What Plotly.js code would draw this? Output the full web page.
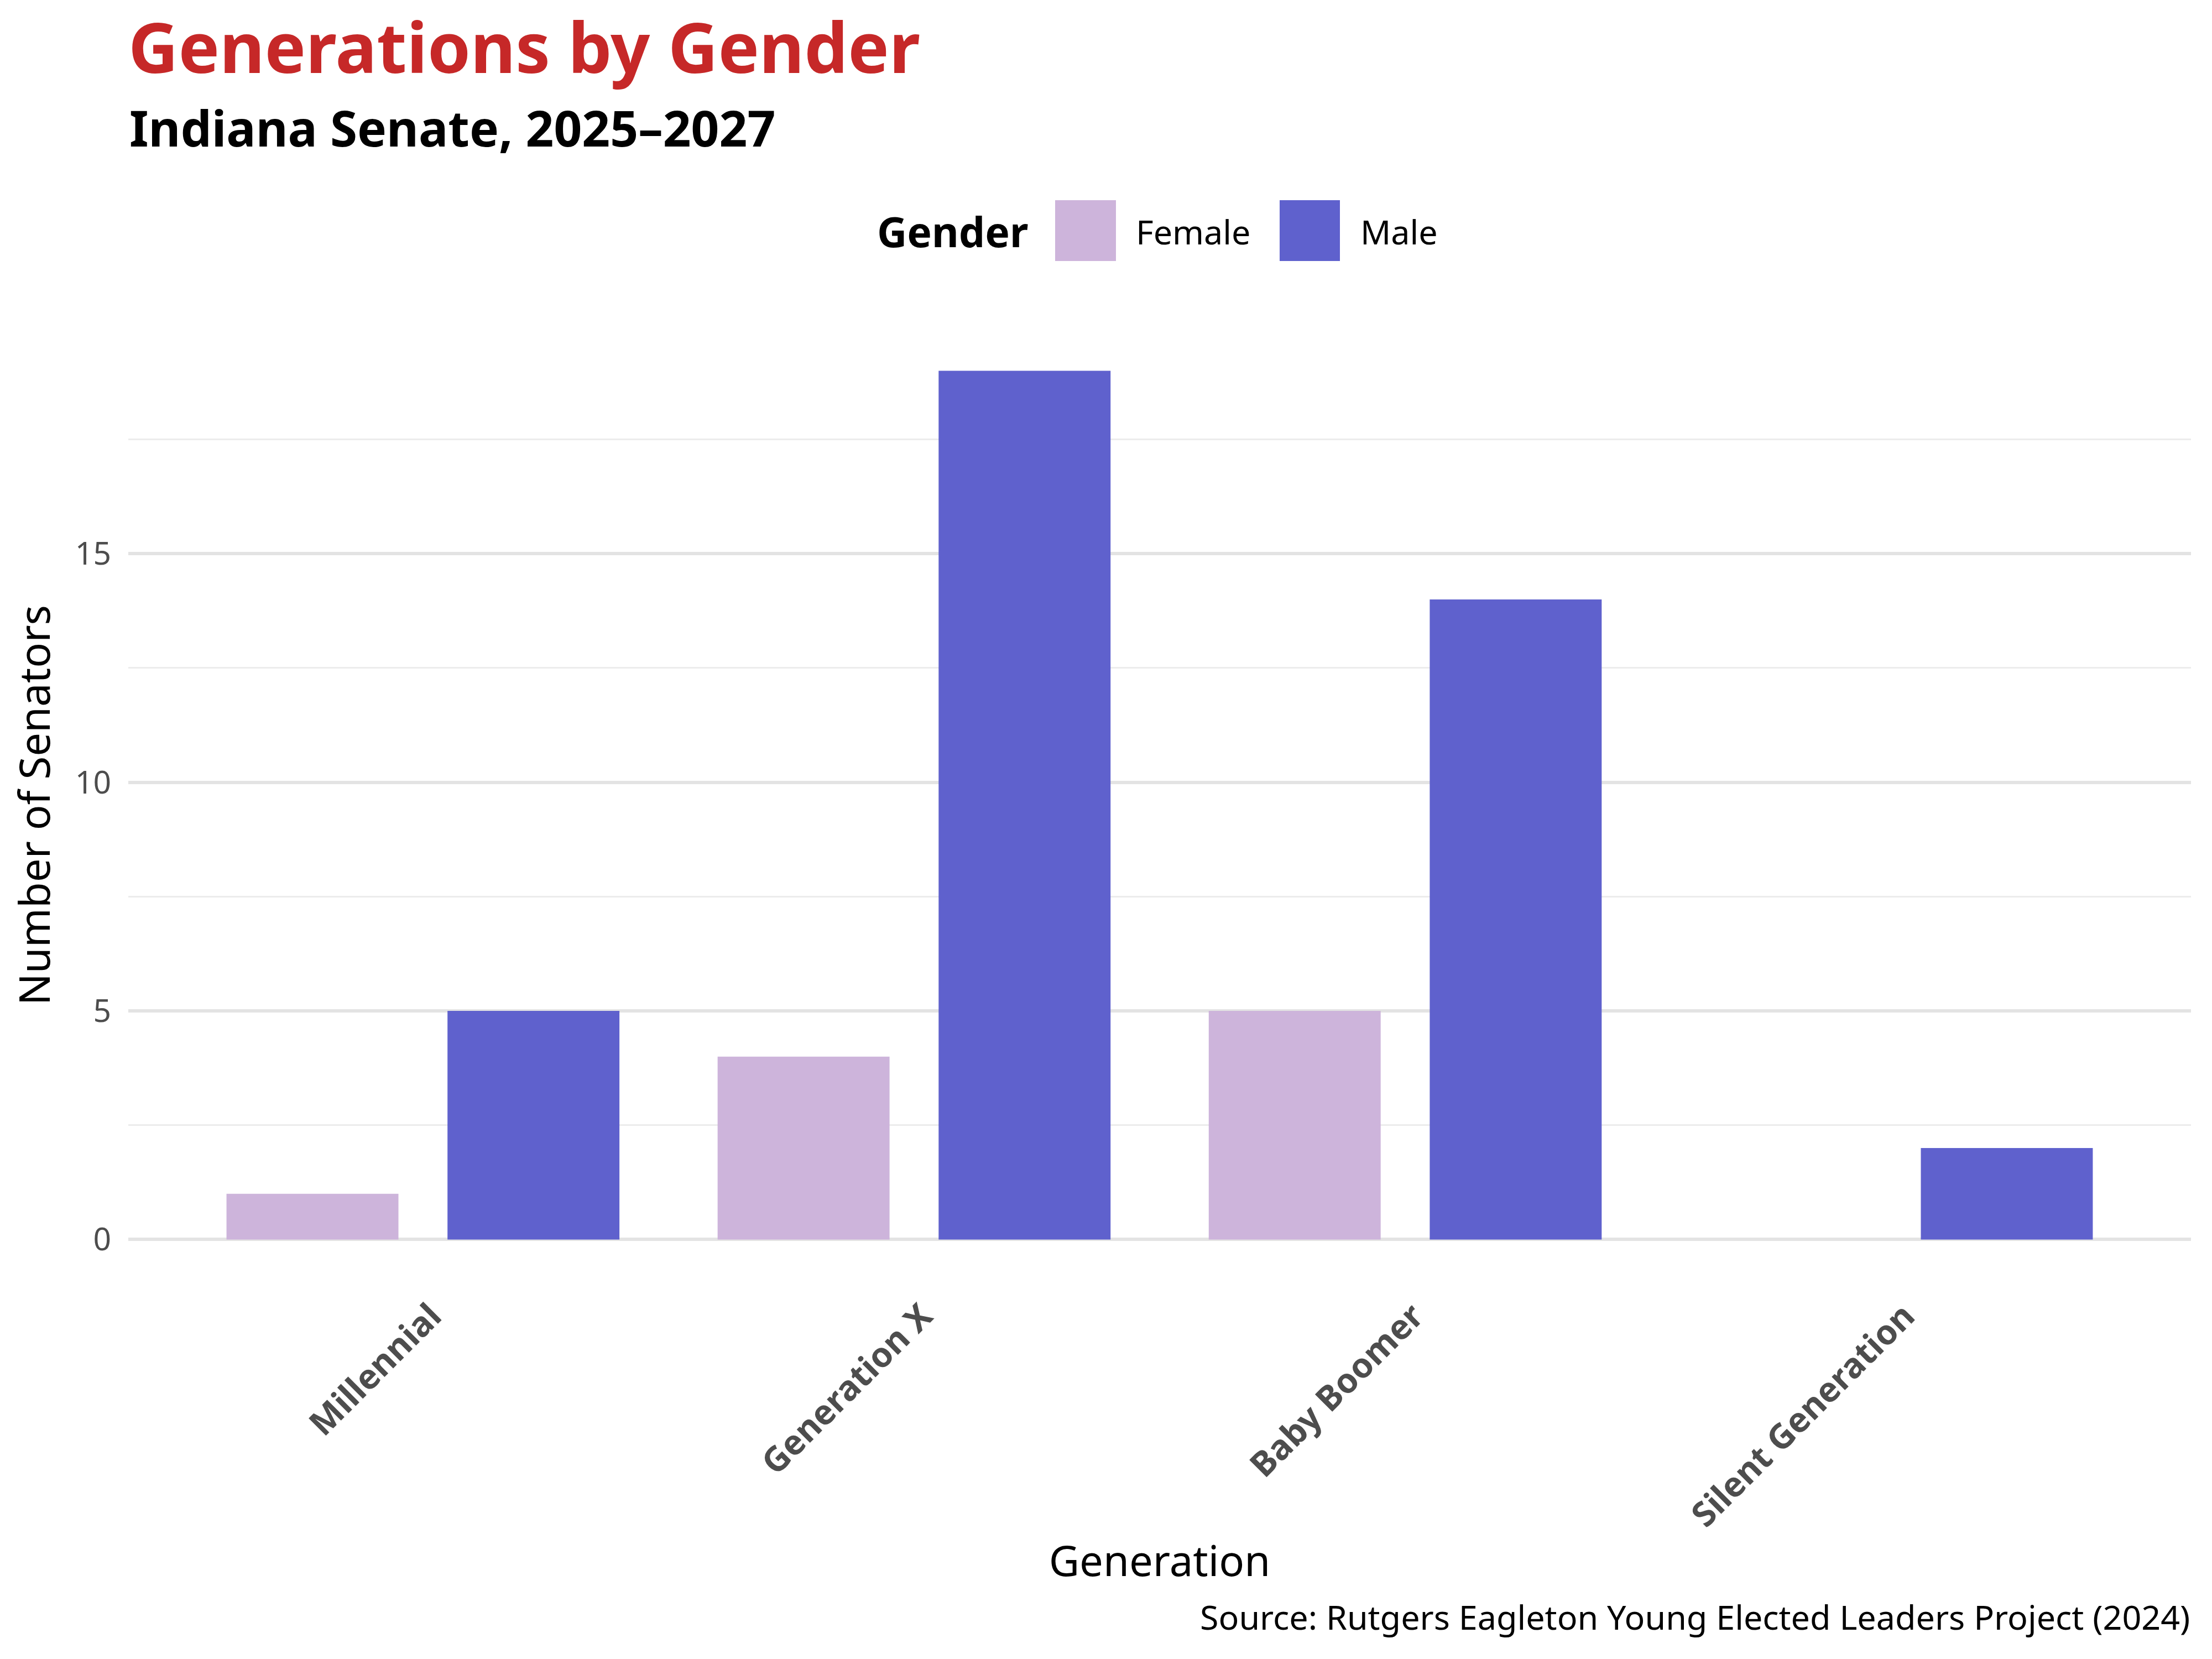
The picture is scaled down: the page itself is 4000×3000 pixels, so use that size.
<!DOCTYPE html>
<html>
<head>
<meta charset="utf-8">
<script src="https://cdn.plot.ly/plotly-3.0.1.min.js"></script>
<style>html,body{margin:0;padding:0;background:#fff}</style>
</head>
<body>
<div id="chart" style="width:4000px;height:3000px"></div>
<script>
const generations = ["Millennial", "Generation X", "Baby Boomer", "Silent Generation"];
const femaleCounts = [1, 4, 5, 0];
const maleCounts = [5, 19, 14, 2];
const genders = ["Female", "Male"];
const genderColors = ["#CDB4DB", "#5F61CD"];
const yTickVals = [0, 5, 10, 15];

const FONT = "Noto Sans, Open Sans, sans-serif";
const L = 232, R = 3962, T = 592, B = 2320;
const px2x = p => (p - L) / (R - L);
const py2y = p => (B - p) / (B - T);

const traces = [
  {type: "bar", name: genders[0], x: generations, y: femaleCounts,
   marker: {color: genderColors[0]}, showlegend: false, hoverinfo: "x+y+name"},
  {type: "bar", name: genders[1], x: generations, y: maleCounts,
   marker: {color: genderColors[1]}, showlegend: false, hoverinfo: "x+y+name"}
];

const shapes = [
  {type: "rect", xref: "paper", yref: "paper", x0: px2x(1908), x1: px2x(2018), y0: py2y(472), y1: py2y(362),
   fillcolor: genderColors[0], line: {width: 0}},
  {type: "rect", xref: "paper", yref: "paper", x0: px2x(2314), x1: px2x(2423), y0: py2y(472), y1: py2y(362),
   fillcolor: genderColors[1], line: {width: 0}}
];

const annotations = [
  {text: "Indiana Senate, 2025–2027", xref: "paper", yref: "paper", x: 0, y: py2y(230), xanchor: "left", yanchor: "middle",
   showarrow: false, font: {family: FONT, size: 89, color: "#000", weight: "bold"}},
  {text: "Gender", xref: "paper", yref: "paper", x: px2x(1862), y: py2y(418), xanchor: "right", yanchor: "middle",
   showarrow: false, font: {family: FONT, size: 75, color: "#000", weight: "bold"}},
  {text: genders[0], xref: "paper", yref: "paper", x: px2x(2052), y: py2y(418), xanchor: "left", yanchor: "middle",
   showarrow: false, font: {family: FONT, size: 61, color: "#000"}},
  {text: genders[1], xref: "paper", yref: "paper", x: px2x(2458), y: py2y(418), xanchor: "left", yanchor: "middle",
   showarrow: false, font: {family: FONT, size: 61, color: "#000"}},
  {text: "Source: Rutgers Eagleton Young Elected Leaders Project (2024)", xref: "paper", yref: "paper", x: 1, y: py2y(2923),
   xanchor: "right", yanchor: "middle", showarrow: false, font: {family: FONT, size: 61, color: "#000"}}
];

const layout = {
  width: 4000, height: 3000,
  paper_bgcolor: "#fff", plot_bgcolor: "#fff",
  margin: {l: L, r: 4000 - R, t: T, b: 3000 - B, pad: 0},
  font: {family: FONT},
  title: {text: "Generations by Gender", x: 0, xref: "paper", xanchor: "left",
          y: 1 - 88 / 3000, yref: "container", yanchor: "middle",
          font: {family: FONT, size: 125, color: "#C62828", weight: "bold"}},
  barmode: "group", bargap: 0.1, bargroupgap: 0.222,
  xaxis: {
    type: "category", range: [-0.6, 3.6], showgrid: false, zeroline: false, showline: false,
    ticks: "", tickangle: -45, ticklabelstandoff: 10, ticklabelshift: 15,
    tickfont: {family: FONT, size: 62, color: "#4D4D4D", weight: "bold"},
    title: {text: "Generation", standoff: 20, font: {family: FONT, size: 76, color: "#000"}},
    automargin: false
  },
  yaxis: {
    range: [-0.95, 19.95], tickvals: yTickVals, ticktext: yTickVals.map(String),
    showgrid: true, gridcolor: "#E3E3E3", gridwidth: 6, zeroline: false, showline: false,
    ticks: "", ticklabelstandoff: 30,
    tickfont: {family: FONT, size: 57, color: "#4D4D4D"},
    minor: {tick0: 2.5, dtick: 5, showgrid: true, gridcolor: "#ECECEC", gridwidth: 3, ticks: ""},
    title: {text: "Number of Senators", standoff: 20, font: {family: FONT, size: 76, color: "#000"}},
    automargin: false
  },
  shapes: shapes,
  annotations: annotations,
  showlegend: false
};

Plotly.newPlot("chart", traces, layout, {staticPlot: true, displayModeBar: false});
</script>
</body>
</html>
